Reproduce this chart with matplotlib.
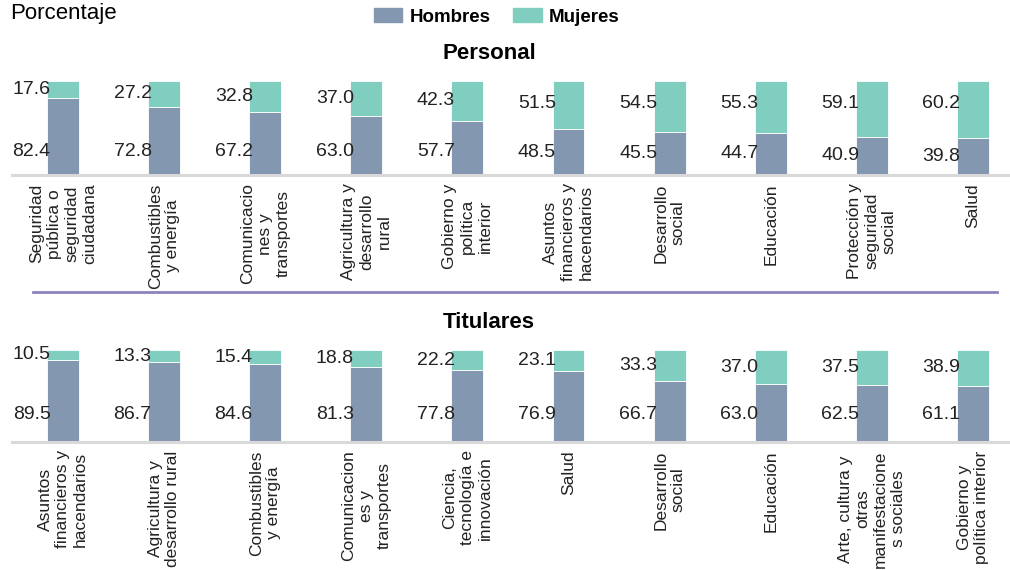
import matplotlib
matplotlib.use('Agg')
import numpy as np
import matplotlib.pyplot as plt
from matplotlib.lines import Line2D

plt.rcParams['font.family'] = ['Liberation Sans', 'DejaVu Sans']

# Personal
cat_personal = ['Seguridad\npública o\nseguridad\nciudadana', 'Combustibles\ny energía',
                'Comunicacio\nnes y\ntransportes', 'Agricultura y\ndesarrollo\nrural',
                'Gobierno y\npolítica\ninterior', 'Asuntos\nfinancieros y\nhacendarios',
                'Desarrollo\nsocial', 'Educación', 'Protección y\nseguridad\nsocial', 'Salud']
hom_personal = [82.4, 72.8, 67.2, 63.0, 57.7, 48.5, 45.5, 44.7, 40.9, 39.8]
muj_personal = [17.6, 27.2, 32.8, 37.0, 42.3, 51.5, 54.5, 55.3, 59.1, 60.2]

# Titulares
cat_titulares = ['Asuntos\nfinancieros y\nhacendarios', 'Agricultura y\ndesarrollo rural',
                 'Combustibles\ny energía', 'Comunicacion\nes y\ntransportes',
                 'Ciencia,\ntecnología e\ninnovación', 'Salud', 'Desarrollo\nsocial',
                 'Educación', 'Arte, cultura y\notras\nmanifestacione\ns sociales',
                 'Gobierno y\npolítica interior']
hom_titulares = [89.5, 86.7, 84.6, 81.3, 77.8, 76.9, 66.7, 63.0, 62.5, 61.1]
muj_titulares = [10.5, 13.3, 15.4, 18.8, 22.2, 23.1, 33.3, 37.0, 37.5, 38.9]

c_hom = '#8497B0'
c_muj = '#7FCEC0'
W, H = 1010, 570

fig = plt.figure(figsize=(10.1, 5.7), dpi=100)


def panel(top_px, base_px, cats, hom, muj, title, hlab):
    ax = fig.add_axes([12 / W, 1 - base_px / H, 1 - 12 / W, (base_px - top_px) / H])
    x = np.arange(len(cats))
    bw = 0.316
    ax.bar(x, hom, bw, color=c_hom, edgecolor='white', linewidth=0.6)
    ax.bar(x, muj, bw, bottom=hom, color=c_muj, edgecolor='white', linewidth=0.6)
    for i in range(len(cats)):
        ax.text(i - bw / 2 + 0.035, max(100 - muj[i] / 2, 76), f'{muj[i]:.1f}',
                ha='right', va='center', fontsize=14, color='#222222')
        ax.text(i - bw / 2 + 0.035, hlab(hom[i]), f'{hom[i]:.1f}',
                ha='right', va='center', fontsize=14, color='#222222')
    ax.set_xlim(-0.504, 9.367)
    ax.set_ylim(0, 100)
    for s in ['top', 'right', 'left']:
        ax.spines[s].set_visible(False)
    ax.spines['bottom'].set_color('#D9D9D9')
    ax.spines['bottom'].set_linewidth(2.2)
    ax.set_yticks([])
    ax.set_xticks(x)
    ax.set_xticklabels(cats, rotation=90, ha='center', va='top', fontsize=12.5,
                       linespacing=1.22, color='#222222')
    ax.tick_params(axis='x', length=0, pad=6)
    ax.set_title(title, fontsize=16, fontweight='bold', pad=16, x=0.478)
    return ax


panel(81, 175, cat_personal, hom_personal, muj_personal, 'Personal',
      lambda h: min(h / 2, 24.5))
panel(350, 442, cat_titulares, hom_titulares, muj_titulares, 'Titulares',
      lambda h: 30)

fig.add_artist(Line2D([33 / W, 997 / W], [1 - 292 / H, 1 - 292 / H],
                      color='#8B83BE', lw=2))

fig.text(10 / W, 1 - 14 / H, 'Porcentaje', fontsize=16, ha='left', va='center')
handles = [plt.Rectangle((0, 0), 1, 1, color=c_hom), plt.Rectangle((0, 0), 1, 1, color=c_muj)]
fig.legend(handles, ['Hombres', 'Mujeres'], loc='center', ncol=2, frameon=False,
           bbox_to_anchor=(497 / W, 1 - 17 / H), prop={'weight': 'bold', 'size': 13.5},
           handlelength=1.5, handleheight=0.7, handletextpad=0.4, columnspacing=1.2)

plt.savefig('out.png', dpi=100)
print("Done")
